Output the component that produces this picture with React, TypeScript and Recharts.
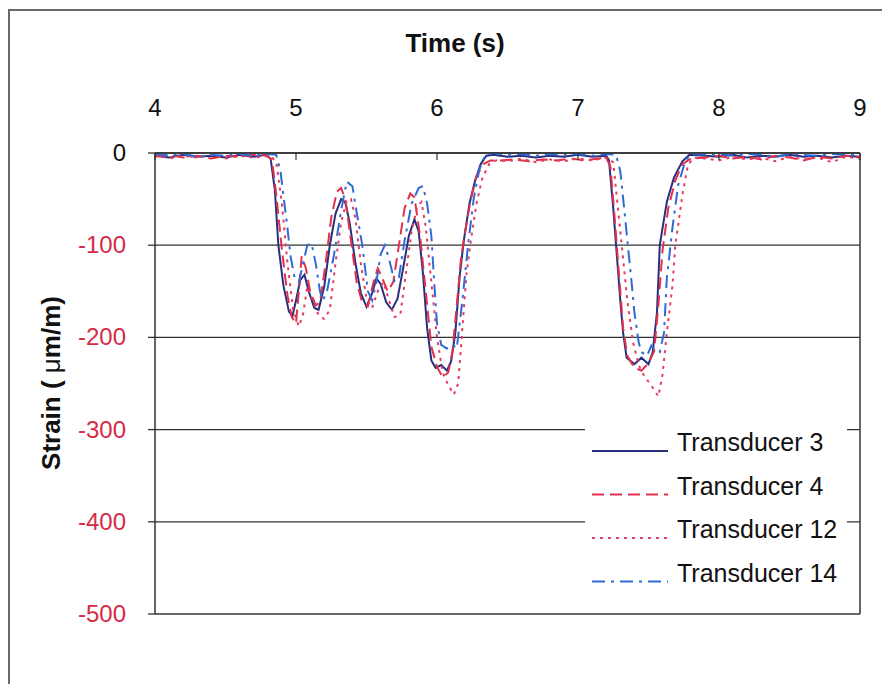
import React from "react";
import {
  LineChart,
  Line,
  XAxis,
  YAxis,
  CartesianGrid,
  ReferenceLine,
  Legend,
} from "recharts";

// [time (s), strain (µm/m)] samples per transducer
const T3: [number, number][] = [
  [4.0, -3], [4.1, -5], [4.2, -2], [4.3, -4], [4.4, -3], [4.5, -5], [4.6, -2], [4.7, -4], [4.78, -2],
  [4.82, -6], [4.85, -40], [4.875, -100], [4.91, -143], [4.95, -172], [4.975, -177], [5.0, -160],
  [5.03, -138], [5.06, -132], [5.09, -150], [5.13, -168], [5.16, -170], [5.2, -145], [5.24, -100],
  [5.28, -66], [5.32, -50], [5.35, -54], [5.38, -75], [5.42, -118], [5.46, -152], [5.5, -167],
  [5.54, -152], [5.57, -136], [5.6, -142], [5.64, -162], [5.68, -170], [5.72, -158], [5.76, -125],
  [5.8, -90], [5.84, -72], [5.87, -85], [5.9, -130], [5.93, -190], [5.96, -225], [5.99, -233],
  [6.03, -230], [6.07, -236], [6.1, -226], [6.13, -195], [6.16, -135], [6.19, -95], [6.23, -55],
  [6.27, -30], [6.31, -12], [6.35, -3],
  [6.4, -2], [6.5, -4], [6.6, -3], [6.7, -5], [6.8, -3], [6.9, -4], [7.0, -2], [7.1, -4], [7.2, -3],
  [7.22, -8], [7.25, -60], [7.27, -100], [7.3, -160], [7.32, -195], [7.345, -222], [7.4, -229],
  [7.45, -222], [7.5, -229], [7.53, -216], [7.56, -173], [7.58, -100], [7.63, -53], [7.68, -27],
  [7.74, -9], [7.79, -2],
  [7.9, -3], [8.0, -4], [8.1, -2], [8.2, -5], [8.3, -3], [8.4, -4], [8.5, -2], [8.6, -4], [8.7, -3],
  [8.8, -5], [8.9, -3], [9.0, -4],
];

const T4: [number, number][] = [
  [4.0, -4], [4.1, -2], [4.2, -5], [4.3, -3], [4.4, -6], [4.5, -3], [4.6, -4], [4.7, -2], [4.8, -3],
  [4.83, -8], [4.86, -45], [4.9, -105], [4.94, -155], [4.97, -178], [5.0, -185], [5.02, -150],
  [5.04, -112], [5.07, -125], [5.1, -150], [5.14, -165], [5.17, -162], [5.21, -120], [5.25, -70],
  [5.29, -42], [5.32, -38], [5.35, -50], [5.39, -95], [5.43, -140], [5.47, -162], [5.51, -166],
  [5.55, -140], [5.58, -125], [5.61, -135], [5.65, -150], [5.69, -140], [5.73, -100], [5.77, -60],
  [5.81, -44], [5.84, -48], [5.88, -90], [5.92, -150], [5.96, -210], [6.0, -232], [6.04, -243],
  [6.08, -238], [6.11, -215], [6.14, -165], [6.17, -115], [6.2, -85], [6.24, -50], [6.28, -25],
  [6.33, -12], [6.38, -8],
  [6.45, -8], [6.55, -7], [6.65, -9], [6.75, -7], [6.85, -8], [6.95, -6], [7.05, -8], [7.15, -6], [7.2, -5],
  [7.23, -15], [7.26, -70], [7.29, -130], [7.32, -190], [7.35, -220], [7.4, -233], [7.45, -236],
  [7.5, -228], [7.54, -215], [7.57, -165], [7.6, -105], [7.64, -60], [7.69, -30], [7.74, -12], [7.8, -6],
  [7.9, -5], [8.0, -3], [8.1, -6], [8.2, -4], [8.3, -7], [8.4, -3], [8.5, -5], [8.6, -8], [8.7, -4],
  [8.8, -6], [8.9, -3], [9.0, -5],
];

const T12: [number, number][] = [
  [4.0, -2], [4.1, -6], [4.2, -3], [4.3, -5], [4.4, -2], [4.5, -6], [4.6, -3], [4.7, -5], [4.82, -3],
  [4.86, -10], [4.9, -55], [4.94, -120], [4.98, -170], [5.02, -188], [5.05, -175], [5.08, -145],
  [5.12, -160], [5.16, -176], [5.2, -180], [5.24, -170], [5.28, -120], [5.32, -75], [5.36, -52],
  [5.39, -50], [5.42, -70], [5.46, -120], [5.5, -158], [5.54, -168], [5.58, -150], [5.62, -140],
  [5.66, -160], [5.7, -178], [5.74, -175], [5.78, -130], [5.82, -85], [5.86, -58], [5.89, -53],
  [5.92, -80], [5.96, -140], [6.0, -200], [6.04, -238], [6.08, -252], [6.12, -262], [6.15, -250],
  [6.18, -190], [6.21, -130], [6.24, -95], [6.28, -55], [6.32, -28], [6.37, -12], [6.42, -8],
  [6.5, -9], [6.6, -6], [6.7, -10], [6.8, -7], [6.9, -9], [7.0, -6], [7.1, -8], [7.2, -5],
  [7.25, -10], [7.28, -55], [7.31, -100], [7.35, -160], [7.39, -205], [7.43, -230], [7.47, -242],
  [7.52, -252], [7.57, -264], [7.6, -240], [7.63, -195], [7.67, -144], [7.69, -100], [7.74, -46],
  [7.78, -13], [7.82, -5],
  [7.9, -6], [8.0, -8], [8.1, -4], [8.2, -7], [8.3, -5], [8.4, -9], [8.5, -4], [8.6, -7], [8.7, -5],
  [8.8, -10], [8.9, -4], [9.0, -6],
];

const T14: [number, number][] = [
  [4.0, -1], [4.1, -3], [4.2, -1], [4.3, -4], [4.4, -2], [4.5, -3], [4.6, -1], [4.7, -3], [4.8, -1], [4.86, -2],
  [4.89, -20], [4.91, -45], [4.94, -82], [4.96, -111], [4.99, -135], [5.02, -140], [5.05, -120],
  [5.08, -100], [5.11, -98], [5.14, -120], [5.17, -150], [5.19, -160], [5.22, -150], [5.27, -110],
  [5.32, -62], [5.36, -31], [5.4, -36], [5.43, -64], [5.47, -100], [5.51, -150], [5.54, -160],
  [5.57, -140], [5.6, -110], [5.63, -100], [5.66, -115], [5.7, -140], [5.73, -135], [5.77, -95],
  [5.82, -55], [5.87, -38], [5.9, -36], [5.93, -55], [5.96, -90], [5.98, -140], [6.0, -185],
  [6.03, -208], [6.07, -212], [6.11, -208], [6.14, -212], [6.18, -160], [6.22, -100], [6.26, -50],
  [6.3, -18], [6.34, -3],
  [6.4, 0], [6.5, -2], [6.6, -1], [6.7, -3], [6.8, -1], [6.9, -2], [7.0, -1], [7.1, -3], [7.2, -1], [7.27, -2],
  [7.3, -20], [7.33, -64], [7.36, -110], [7.38, -140], [7.4, -173], [7.43, -205], [7.45, -216],
  [7.49, -220], [7.52, -209], [7.55, -214], [7.58, -216], [7.61, -195], [7.63, -136], [7.67, -81],
  [7.71, -35], [7.76, -9], [7.8, -1],
  [7.9, -2], [8.0, -1], [8.1, -3], [8.2, -1], [8.3, -2], [8.4, -4], [8.5, -1], [8.6, -2], [8.7, -3],
  [8.8, -1], [8.9, -2], [9.0, -2],
];

const TIME_TICKS = [4, 5, 6, 7, 8, 9];
const STRAIN_TICKS = [0, -100, -200, -300, -400, -500];

const SERIES = [
  { name: "Transducer 3", color: "#27307e", dash: undefined, data: T3 },
  { name: "Transducer 4", color: "#e2304c", dash: "12 6", data: T4 },
  { name: "Transducer 12", color: "#e43d62", dash: "3 5", data: T12 },
  { name: "Transducer 14", color: "#2f6bd4", dash: "13 6 3 6", data: T14 },
];

const FONT = 'Arial, "Liberation Sans", sans-serif';
const AXIS = "#333";

const toPoints = (pts: [number, number][]) => pts.map(([t, s]) => ({ t, s }));

function TimeTick({ x, y, payload }: any) {
  return (
    <g>
      <text x={x} y={y} textAnchor="middle" fontSize={24} fill="#111" fontFamily={FONT}>
        {payload.value}
      </text>
      {/* small tick marks hang inside the plot below the top axis */}
      <line x1={x} x2={x} y1={y + 37} y2={y + 44} stroke={AXIS} strokeWidth={1.2} />
    </g>
  );
}

function StrainTick({ x, y, payload }: any) {
  return (
    <text
      x={x}
      y={y + 8}
      textAnchor="end"
      fontSize={24}
      fontFamily={FONT}
      fill={payload.value === 0 ? "#111" : "#d62b48"}
    >
      {payload.value}
    </text>
  );
}

function LegendBox() {
  return (
    <svg width={262} height={188} style={{ display: "block", background: "#fff" }}>
      {SERIES.map((s, i) => {
        const y = 39 + i * 43.5;
        return (
          <g key={s.name}>
            <line
              x1={7}
              x2={83}
              y1={y}
              y2={y}
              stroke={s.color}
              strokeWidth={2}
              strokeDasharray={s.dash}
            />
            <text x={92} y={y} fontSize={25} fontFamily={FONT} fill="#111">
              {s.name}
            </text>
          </g>
        );
      })}
    </svg>
  );
}

export default function App() {
  return (
    <div style={{ position: "relative", width: 882, height: 676, fontFamily: FONT }}>
      <div
        style={{
          position: "absolute",
          left: 0,
          top: 1,
          width: 880,
          height: 675,
          boxSizing: "border-box",
          border: "2px solid #6a6a6a",
          borderBottom: "none",
        }}
      />
      <LineChart width={882} height={676} margin={{ top: 0, right: 30, bottom: 70, left: 0 }}>
        <CartesianGrid vertical={false} stroke={AXIS} strokeWidth={1.3} />
        <XAxis
          type="number"
          dataKey="t"
          orientation="top"
          domain={[4, 9]}
          ticks={TIME_TICKS}
          height={145}
          axisLine={{ stroke: AXIS, strokeWidth: 1.5 }}
          tickLine={false}
          tickSize={0}
          tickMargin={37}
          tick={TimeTick}
        />
        <YAxis
          type="number"
          domain={[-500, 0]}
          ticks={STRAIN_TICKS}
          width={147}
          axisLine={{ stroke: AXIS, strokeWidth: 1.5 }}
          tickLine={{ stroke: AXIS, strokeWidth: 1.3 }}
          tickSize={7}
          tickMargin={22}
          tick={StrainTick}
        />
        <ReferenceLine x={9} stroke={AXIS} strokeWidth={1.5} />
        {SERIES.map((s) => (
          <Line
            key={s.name}
            data={toPoints(s.data)}
            dataKey="s"
            name={s.name}
            type="linear"
            stroke={s.color}
            strokeWidth={2}
            strokeDasharray={s.dash}
            dot={false}
            activeDot={false}
            isAnimationActive={false}
          />
        ))}
        <Legend
          layout="vertical"
          align="center"
          verticalAlign="middle"
          content={LegendBox}
          wrapperStyle={{ left: 577, top: 404, width: 262, height: 188 }}
        />
      </LineChart>
      <div
        style={{
          position: "absolute",
          left: 447,
          top: 35,
          transform: "translate(-50%, -50%)",
          fontSize: 26,
          fontWeight: "bold",
          lineHeight: 1,
          whiteSpace: "nowrap",
          color: "#111",
        }}
      >
        Time (s)
      </div>
      <div
        style={{
          position: "absolute",
          left: 43,
          top: 375,
          transform: "translate(-50%, -50%) rotate(-90deg)",
          fontSize: 26,
          fontWeight: "bold",
          lineHeight: 1,
          whiteSpace: "nowrap",
          color: "#111",
        }}
      >
        Strain ( <span style={{ fontWeight: "normal" }}>μ</span>m/m)
      </div>
    </div>
  );
}
